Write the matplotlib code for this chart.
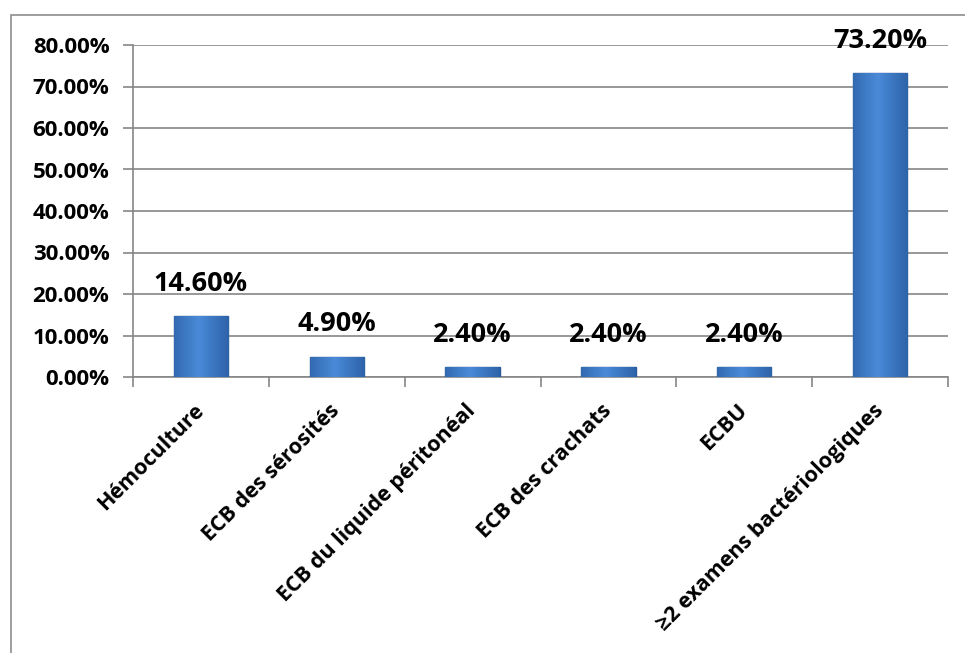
import matplotlib
matplotlib.use("Agg")
import matplotlib.pyplot as plt
from matplotlib.patches import Rectangle
import numpy as np

categories = ["Hémoculture", "ECB des sérosités", "ECB du liquide péritonéal",
              "ECB des crachats", "ECBU", "≥2 examens bactériologiques"]
values = [14.6, 4.9, 2.4, 2.4, 2.4, 73.2]
y_ticks = [0, 10, 20, 30, 40, 50, 60, 70, 80]

plt.rcParams['font.family'] = ['Open Sans', 'DejaVu Sans']
plt.rcParams['font.weight'] = 'bold'

fig = plt.figure(figsize=(9.65, 6.53), dpi=100)
ax = fig.add_axes([133/965, 1-377/653, (948-133)/965, (377-45)/653])

# outer frame of the chart
fig.patches.append(Rectangle((11/965, -0.1), 1.2, 1-15/653+0.1, transform=fig.transFigure,
                             fill=False, edgecolor='#8c8c8c', lw=1.2))

x = np.arange(len(categories))
bars = ax.bar(x, values, width=0.4, color='#3b78c6', edgecolor='#2a5896', lw=1.0, zorder=3)

# light gradient on each bar
grad = np.linspace(0, 1, 100).reshape(1, -1)
grad = np.abs(grad - 0.45)
cmap = matplotlib.colors.LinearSegmentedColormap.from_list('b', ['#4a8ad8', '#2d63a8'])
for b in bars:
    x0, y0 = b.get_x(), b.get_y()
    w, h = b.get_width(), b.get_height()
    im = ax.imshow(grad, extent=[x0, x0 + w, y0, y0 + h], aspect='auto',
                   cmap=cmap, zorder=3.5, interpolation='bicubic')
    im.set_clip_path(b)

for xi, v in zip(x, values):
    ax.annotate(f"{v:.2f}%", (xi, v), xytext=(0, 14), textcoords='offset points',
                ha='center', va='bottom', fontsize=19.5, fontweight='bold')

ax.set_xlim(-0.5, len(categories) - 0.5)
ax.set_ylim(0, 80)
ax.set_yticks(y_ticks)
ax.set_yticklabels([f"{t:.2f}%" for t in y_ticks], fontsize=16, fontweight='bold')
ax.yaxis.grid(True, color='#868686', lw=1.2, zorder=0)
ax.set_axisbelow(True)

ax.set_xticks(x)
ax.set_xticklabels(categories, rotation=45, ha='right', va='center',
                   rotation_mode='anchor', fontsize=15.5, fontweight='bold')
ax.tick_params(axis='x', length=0, pad=22)
ax.set_xticks(np.arange(len(categories) + 1) - 0.5, minor=True)
ax.tick_params(axis='x', which='minor', length=7, color='#868686', width=1.2)
ax.tick_params(axis='y', length=7, color='#868686', width=1.2, pad=10)

for s in ['top', 'right']:
    ax.spines[s].set_visible(False)
for s in ['left', 'bottom']:
    ax.spines[s].set_color('#868686')
    ax.spines[s].set_linewidth(1.2)

fig.savefig("out.png", dpi=100, facecolor='white')
